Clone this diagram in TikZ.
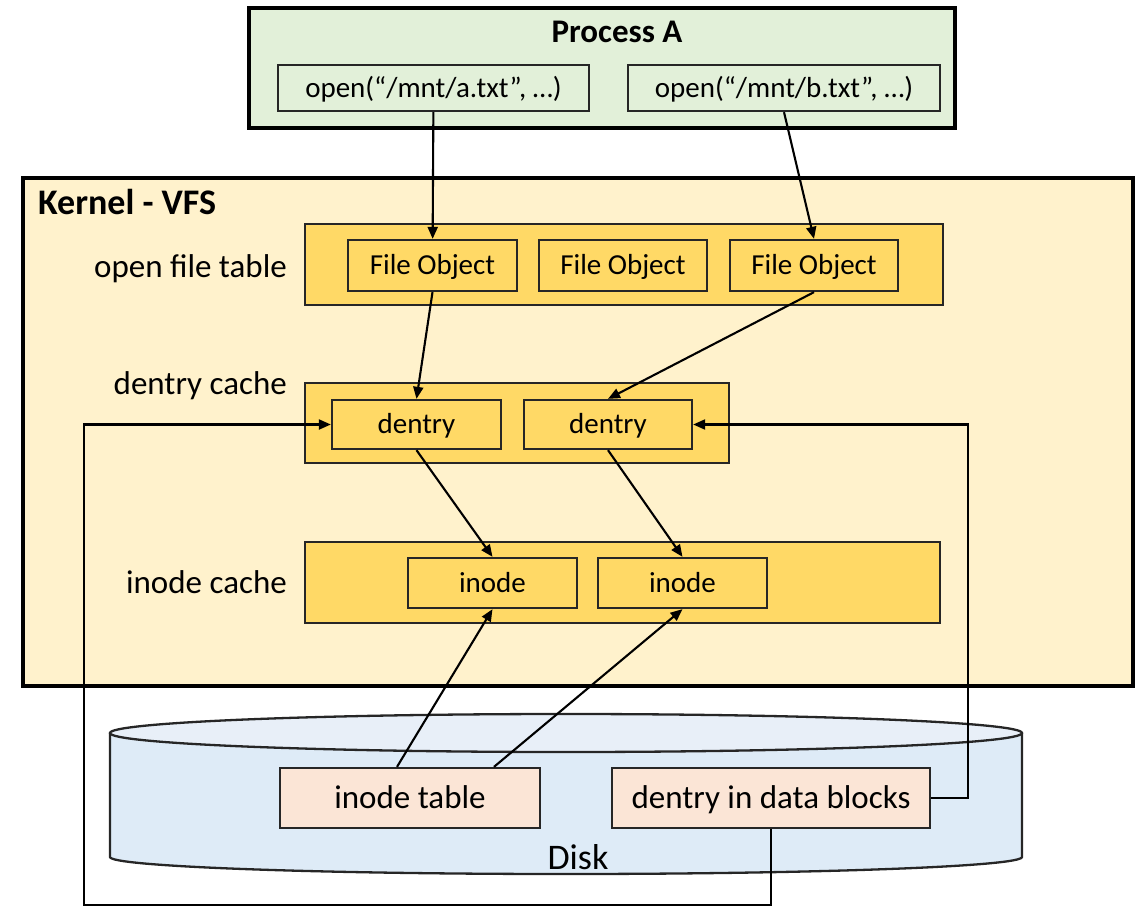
\documentclass[tikz,border=0pt]{standalone}
\usepackage{fontspec}
\setmainfont{Carlito}
\usetikzlibrary{arrows.meta,calc}

\definecolor{procfill}{HTML}{E2F0D9}
\definecolor{kernfill}{HTML}{FFF2CC}
\definecolor{cachefill}{HTML}{FFD966}
\definecolor{diskfill}{HTML}{DEEBF7}
\definecolor{disktop}{HTML}{E8EFF8}
\definecolor{blockfill}{HTML}{FBE5D6}
\definecolor{edge}{HTML}{262626}

\tikzset{
  % centre the capital height of text set at size #1
  capsize/.style={font=\fontsize{#1}{#1}\selectfont, text height=0.644*#1 pt, text depth=0pt},
  outerbox/.style={draw=black, line width=3.5pt, inner sep=0pt},
  cachebox/.style={draw=edge, line width=2.3pt, fill=cachefill, inner sep=0pt},
  itembox/.style={draw=edge, line width=2.3pt, fill=cachefill, inner sep=0pt, capsize=29},
  callbox/.style={draw=edge, line width=2.3pt, fill=procfill, inner sep=0pt, capsize=29},
  blockbox/.style={draw=edge, line width=2.3pt, fill=blockfill, inner sep=0pt, capsize=33},
  layerlabel/.style={anchor=east, inner sep=0pt, capsize=33},
  titlelabel/.style={inner sep=0pt, capsize=#1, font=\bfseries\fontsize{#1}{#1}\selectfont},
  link/.style={draw=black, line width=2.1pt, -{Triangle[length=12pt,width=10pt]}},
}

\begin{document}
\begin{tikzpicture}[x=1pt, y=-1pt]
\useasboundingbox (0,0) rectangle (1140,907);

% user process
\node[outerbox, fill=procfill, minimum width=706pt, minimum height=120pt] (proc) at (602,68) {};
\node[titlelabel=33] (proctitle) at (617,32) {Process A};
\node[callbox, minimum width=311pt, minimum height=46pt] (opena) at (433.5,88) {open(“/mnt/a.txt”, …)};
\node[callbox, minimum width=312pt, minimum height=46pt] (openb) at (784,88) {open(“/mnt/b.txt”, …)};

% kernel VFS layer
\node[outerbox, fill=kernfill, minimum width=1110pt, minimum height=508pt] (kernel) at (578,432) {};
\node[titlelabel=36, anchor=west] (kerntitle) at (38,203) {Kernel - VFS};

\node[cachebox, minimum width=638pt, minimum height=81pt] (oft) at (624,264.5) {};
\node[layerlabel] (oftlabel) at (287,267) {open file table};
\node[itembox, minimum width=169pt, minimum height=51pt] (fo1) at (432.5,265.5) {File Object};
\node[itembox, minimum width=168pt, minimum height=51pt] (fo2) at (623,265.5) {File Object};
\node[itembox, minimum width=168pt, minimum height=51pt] (fo3) at (814,265.5) {File Object};

\node[cachebox, minimum width=424pt, minimum height=80pt] (dcache) at (517,423) {};
\node[layerlabel] (dcachelabel) at (287,384) {dentry cache};
\node[itembox, minimum width=169pt, minimum height=49pt] (de1) at (416.5,424.5) {dentry};
\node[itembox, minimum width=168pt, minimum height=49pt] (de2) at (608,424.5) {dentry};

\node[cachebox, minimum width=635pt, minimum height=81pt] (icache) at (622.5,582.5) {};
\node[layerlabel] (icachelabel) at (287,583) {inode cache};
\node[itembox, minimum width=169pt, minimum height=50pt] (in1) at (492.5,583) {inode};
\node[itembox, minimum width=169pt, minimum height=50pt] (in2) at (682.5,583) {inode};

% disk cylinder
\fill[diskfill] (110,733) -- (110,857) arc[start angle=180, end angle=360, x radius=456, y radius=-17]
  -- (1022,733) -- cycle;
\draw[edge, line width=2.3pt] (110,733) -- (110,857) arc[start angle=180, end angle=360, x radius=456, y radius=-17]
  -- (1022,733);
\draw[edge, line width=2.3pt, fill=disktop] (566,733) ellipse[x radius=456, y radius=19];
\node[inner sep=0pt, capsize=36] (disklabel) at (578,858) {Disk};
\node[blockbox, minimum width=260pt, minimum height=60pt] (itable) at (410,798) {inode table};
\node[blockbox, minimum width=318pt, minimum height=60pt] (ddata) at (771,798) {dentry in data blocks};

% lookup path
\draw[link] (opena) -- (fo1);
\draw[link] (openb.south) -- (fo3.north);
\draw[link] (fo1.south) -- (de1.north);
\draw[link] (fo3.south) -- (de2.north);
\draw[link] (de1.south) -- (in1.north);
\draw[link] (de2.south) -- (in2.north);

% loading from disk
\draw[link] ([xshift=-13pt]itable.north) -- (in1.south);
\draw[link] ([xshift=84pt]itable.north) -- (in2.south);
\coordinate (rturn) at (968,798);
\coordinate (lturn) at (84,905);
\draw[link] (ddata.east) -- (rturn) |- (de2.east);
\draw[link] (ddata.south) |- (lturn) |- (de1.west);
\end{tikzpicture}
\end{document}
